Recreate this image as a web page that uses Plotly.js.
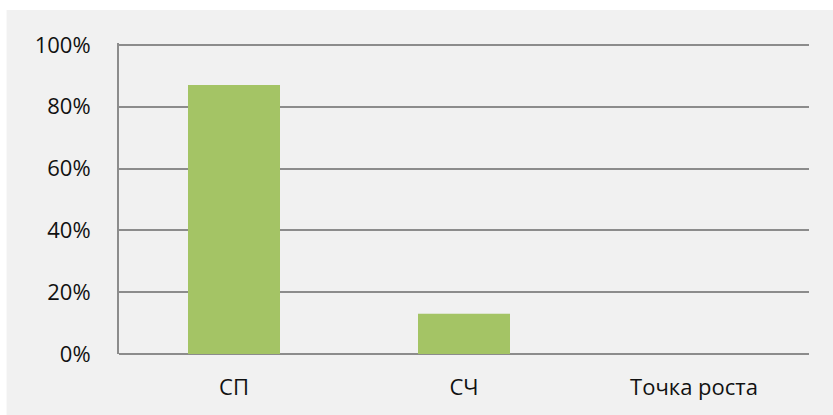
<!DOCTYPE html>
<html>
<head>
<meta charset="utf-8">
<script src="https://cdn.plot.ly/plotly-3.0.1.min.js"></script>
<style>html,body{margin:0;padding:0;background:#fff;}#chart{width:833px;height:415px;}</style>
</head>
<body>
<div id="chart"></div>
<script>
const categories = ["СП", "СЧ", "Точка роста"];
const shares = [0.87, 0.13, 0];
const yTicks = [0, 0.2, 0.4, 0.6, 0.8, 1.0];

const L = 118.5, R = 24, T = 43, B = 61, W = 833, H = 415;
const pw = W - L - R, ph = H - T - B;

Plotly.newPlot('chart', [{
  type: 'bar',
  x: categories,
  y: shares,
  width: 0.4,
  marker: {color: '#a4c465'},
  hoverinfo: 'skip'
}], {
  width: W, height: H,
  margin: {l: L, r: R, t: T, b: B, pad: 0},
  paper_bgcolor: '#ffffff',
  plot_bgcolor: 'rgba(0,0,0,0)',
  font: {family: 'Open Sans, sans-serif', size: 22, color: '#111'},
  showlegend: false,
  bargap: 0.6,
  xaxis: {
    showgrid: false, showline: false, zeroline: false,
    ticks: 'outside', ticklen: 14, tickcolor: 'rgba(0,0,0,0)',
    tickfont: {size: 22, color: '#111'}
  },
  yaxis: {
    range: [0, 1.006], tickvals: yTicks, tickformat: '.0%',
    showgrid: true, gridcolor: '#8c8c8c', gridwidth: 2,
    zeroline: true, zerolinecolor: '#8c8c8c', zerolinewidth: 2,
    showline: true, linecolor: '#8c8c8c', linewidth: 2,
    ticks: 'outside', ticklen: 22, tickcolor: 'rgba(0,0,0,0)',
    tickfont: {size: 22, color: '#111'}
  },
  shapes: [{
    type: 'rect', xref: 'paper', yref: 'paper', layer: 'below',
    x0: (6 - L) / pw, x1: (W - L) / pw + 0.01,
    y0: (H - B - H) / ph - 0.01, y1: (H - B - 10) / ph,
    fillcolor: '#f1f1f1', line: {width: 0}
  }]
}, {displayModeBar: false, staticPlot: true});
</script>
</body>
</html>
